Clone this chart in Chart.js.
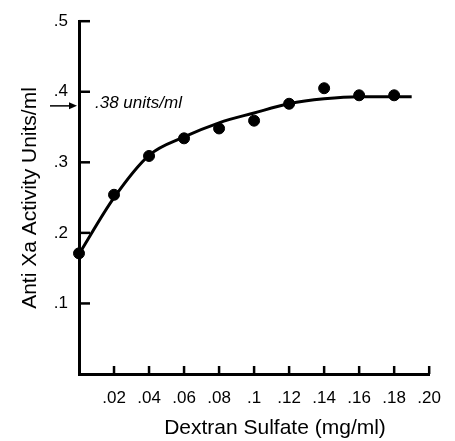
<!DOCTYPE html>
<html>
<head>
<meta charset="utf-8">
<script src="https://cdn.jsdelivr.net/npm/chart.js@4/dist/chart.umd.min.js"></script>
<style>
  html, body { margin: 0; padding: 0; background: #fff; }
  #wrap { width: 455px; height: 441px; }
</style>
</head>
<body>
<div id="wrap"><canvas id="doseChart" width="455" height="441"></canvas></div>
<script>
// measured points
const doseX = [0, 0.02, 0.04, 0.06, 0.08, 0.10, 0.12, 0.14, 0.16, 0.18];
const activityY = [0.171, 0.254, 0.309, 0.334, 0.348, 0.359, 0.383, 0.405, 0.395, 0.395];

// fitted curve
const fitX = [0, 0.02, 0.04, 0.06, 0.08, 0.10, 0.12, 0.14, 0.16, 0.18, 0.19];
const fitY = [0.17, 0.25, 0.31, 0.336, 0.356, 0.37, 0.383, 0.39, 0.393, 0.393, 0.393];

// axis ticks
const xTickValues = [0.02, 0.04, 0.06, 0.08, 0.10, 0.12, 0.14, 0.16, 0.18, 0.20];
const xTickLabels = [".02", ".04", ".06", ".08", ".1", ".12", ".14", ".16", ".18", ".20"];
const yTickValues = [0.1, 0.2, 0.3, 0.4, 0.5];
const yTickLabels = [".1", ".2", ".3", ".4", ".5"];

const markerValue = 0.38;
const markerText = ".38 units/ml";
const xTitle = "Dextran Sulfate (mg/ml)";
const yTitle = "Anti Xa Activity Units/ml";

const FONT = "'Liberation Sans', Arial, Helvetica, sans-serif";

let extras = {
  id: "extras",
  afterDraw(chart) {
    const ctx = chart.ctx;
    const xs = chart.scales.x;
    const ys = chart.scales.y;
    const area = chart.chartArea;

    ctx.save();
    ctx.strokeStyle = "#000";
    ctx.fillStyle = "#000";

    // inward tick marks
    ctx.lineWidth = 2.5;
    xTickValues.forEach((v) => {
      let px = xs.getPixelForValue(v);
      ctx.beginPath();
      ctx.moveTo(px, area.bottom);
      ctx.lineTo(px, area.bottom - 8);
      ctx.stroke();
    });
    yTickValues.forEach((v) => {
      let py = ys.getPixelForValue(v);
      ctx.beginPath();
      ctx.moveTo(area.left, py);
      ctx.lineTo(area.left + 11, py);
      ctx.stroke();
    });

    // arrow marking .38
    let ay = ys.getPixelForValue(markerValue);
    ctx.lineWidth = 1.5;
    ctx.beginPath();
    ctx.moveTo(area.left - 29, ay);
    ctx.lineTo(area.left - 8, ay);
    ctx.stroke();
    ctx.beginPath();
    ctx.moveTo(area.left - 2, ay);
    ctx.lineTo(area.left - 10, ay - 3.5);
    ctx.lineTo(area.left - 10, ay + 3.5);
    ctx.closePath();
    ctx.fill();

    ctx.font = "italic 17px " + FONT;
    ctx.textAlign = "left";
    ctx.textBaseline = "middle";
    ctx.fillText(markerText, area.left + 16, ay - 3);

    // axis titles
    ctx.font = "21px " + FONT;
    ctx.textAlign = "center";
    ctx.fillText(xTitle, 275, 428);

    ctx.translate(30, 198);
    ctx.rotate(-Math.PI / 2);
    ctx.fillText(yTitle, 0, 0);

    ctx.restore();
  },
};

const ctx = document.getElementById("doseChart").getContext("2d");

let chart = new Chart(ctx, {
  type: "scatter",
  data: {
    datasets: [
      {
        label: "Fit",
        data: fitX.map((x, i) => ({ x: x, y: fitY[i] })),
        showLine: true,
        borderColor: "#000",
        borderWidth: 3,
        pointRadius: 0,
        cubicInterpolationMode: "monotone",
      },
      {
        label: "Measured",
        data: doseX.map((x, i) => ({ x: x, y: activityY[i] })),
        backgroundColor: "#000",
        borderColor: "#000",
        pointRadius: 5.5,
        pointHoverRadius: 5.5,
        clip: false,
      },
    ],
  },
  options: {
    responsive: false,
    animation: false,
    layout: { padding: { top: 18, right: 15, bottom: 0, left: 0 } },
    plugins: {
      legend: { display: false },
      tooltip: { enabled: false },
    },
    scales: {
      x: {
        type: "linear",
        min: 0,
        max: 0.2,
        afterBuildTicks: (scale) => {
          scale.ticks = xTickValues.map((v) => ({ value: v }));
        },
        afterFit: (scale) => {
          scale.height = 67;
        },
        ticks: {
          color: "#000",
          padding: 14,
          maxRotation: 0,
          autoSkip: false,
          font: { family: FONT, size: 17 },
          callback: (value, index) => xTickLabels[index],
        },
        grid: { drawOnChartArea: false, drawTicks: false },
        border: { display: true, color: "#000", width: 3 },
      },
      y: {
        type: "linear",
        min: 0,
        max: 0.5,
        afterBuildTicks: (scale) => {
          scale.ticks = yTickValues.map((v) => ({ value: v }));
        },
        afterFit: (scale) => {
          scale.width = 79;
        },
        ticks: {
          color: "#000",
          padding: 11,
          autoSkip: false,
          font: { family: FONT, size: 17 },
          callback: (value, index) => yTickLabels[index],
        },
        grid: { drawOnChartArea: false, drawTicks: false },
        border: { display: true, color: "#000", width: 3 },
      },
    },
  },
  plugins: [extras],
});
</script>
</body>
</html>
